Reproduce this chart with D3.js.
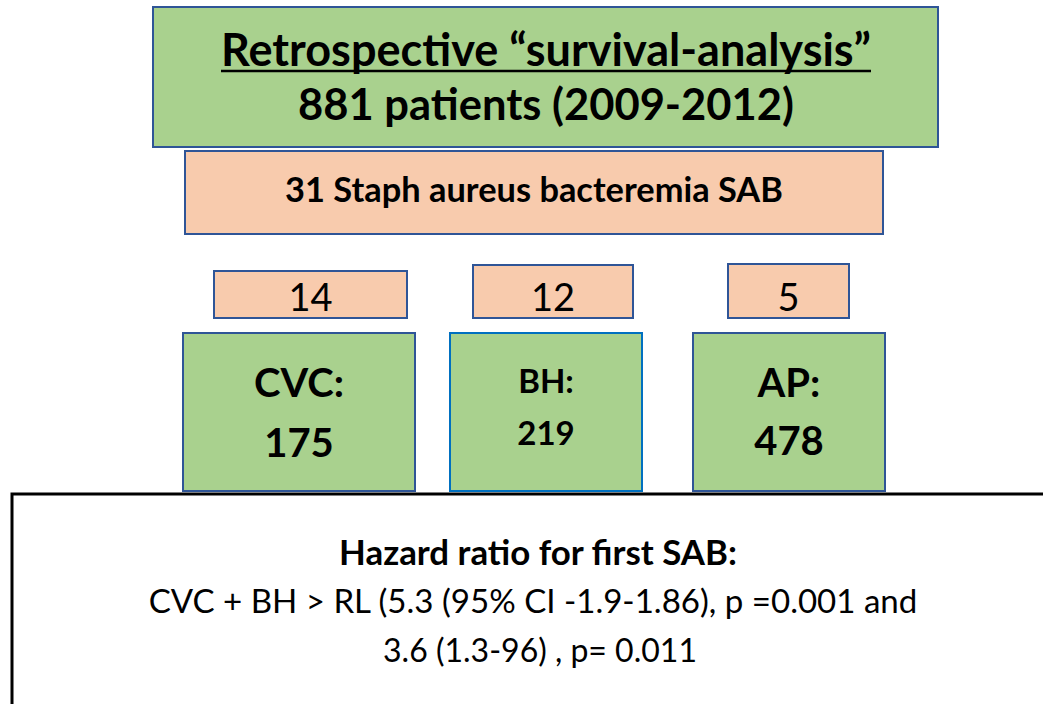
<!DOCTYPE html>
<html>
<head>
<meta charset="utf-8">
<script src="https://cdn.jsdelivr.net/npm/d3@7"></script>
<style>
  body { margin: 0; background: #fff; }
  svg text { font-family: Lato, "Open Sans", sans-serif; fill: #000; }
</style>
</head>
<body>
<div id="chart-area"></div>
<script>
// study data
const titleLines = ["Retrospective “survival-analysis”", "881 patients (2009-2012)"];
const sabLabel = "31 Staph aureus bacteremia SAB";
const groups = ["CVC", "BH", "AP"];
const groupPatients = [175, 219, 478];
const groupSab = [14, 12, 5];
const hazardTitle = "Hazard ratio for first SAB:";
const hazardLines = [
  "CVC + BH > RL (5.3 (95% CI -1.9-1.86), p =0.001 and",
  "3.6 (1.3-96) , p= 0.011"
];

const width = 1043,
  height = 704;

const green = "#a9d18e",
  salmon = "#f8cbad",
  navy = "#2f5597",
  blue = "#0070c0";

const svg = d3
  .select("#chart-area")
  .append("svg")
  .attr("width", width)
  .attr("height", height);

// shrink/grow a text to a given width
function fit(sel, w) {
  const len = sel.node().getComputedTextLength();
  const fs = parseFloat(sel.attr("font-size"));
  sel.attr("font-size", (fs * w) / len);
  return sel;
}

function box(x, y, w, h, fill, stroke, sw) {
  return svg
    .append("rect")
    .attr("x", x)
    .attr("y", y)
    .attr("width", w)
    .attr("height", h)
    .attr("fill", fill)
    .attr("stroke", stroke)
    .attr("stroke-width", sw || 2);
}

function label(x, y, txt, size, bold) {
  return svg
    .append("text")
    .attr("x", x)
    .attr("y", y)
    .attr("text-anchor", "middle")
    .attr("font-size", size)
    .attr("font-weight", bold ? "bold" : "normal")
    .text(txt);
}

// title
box(153, 7, 785, 140, green, navy);
fit(label(546, 66, titleLines[0], 36, true), 650);
svg
  .append("line")
  .attr("x1", 221)
  .attr("x2", 871)
  .attr("y1", 71)
  .attr("y2", 71)
  .attr("stroke", "#000")
  .attr("stroke-width", 2.5);
fit(label(546, 120, titleLines[1], 36, true), 496);

// SAB total
box(185, 151, 698, 83, salmon, navy);
fit(label(534, 202, sabLabel, 24, true), 498);

// group columns
const xCol = d3.scaleOrdinal().domain(groups).range([299, 546, 789]);
const xSab = d3.scaleOrdinal().domain(groups).range([310.5, 553, 788.5]);
const sabBoxW = d3.scaleOrdinal().domain(groups).range([193, 160, 121]);
const sabBoxTop = d3.scaleOrdinal().domain(groups).range([271, 265, 264]);
const grpBoxW = d3.scaleOrdinal().domain(groups).range([232, 192, 192]);
const grpStroke = d3.scaleOrdinal().domain(groups).range([navy, blue, navy]);
const nameY = d3.scaleOrdinal().domain(groups).range([397, 393, 397]);
const numY = d3.scaleOrdinal().domain(groups).range([457, 445, 455]);
const grpSize = d3.scaleOrdinal().domain(groups).range([40, 33, 40]);

groups.forEach((g, i) => {
  const cx = xCol(g),
    sx = xSab(g);
  box(sx - sabBoxW(g) / 2, sabBoxTop(g), sabBoxW(g), 318 - sabBoxTop(g), salmon, navy);
  label(sx, 311, groupSab[i], 38, false);

  box(cx - grpBoxW(g) / 2, 333, grpBoxW(g), 158, green, grpStroke(g));
  label(cx, nameY(g), g + ":", grpSize(g), true);
  label(cx, numY(g), groupPatients[i], grpSize(g), true);
});

// hazard box
box(12, 494, 1100, 300, "#fff", "#000", 3);
fit(label(538, 565, hazardTitle, 26, true), 398);
fit(label(533, 613, hazardLines[0], 28, false), 769);
fit(label(540, 662, hazardLines[1], 28, false), 314);
</script>
</body>
</html>
